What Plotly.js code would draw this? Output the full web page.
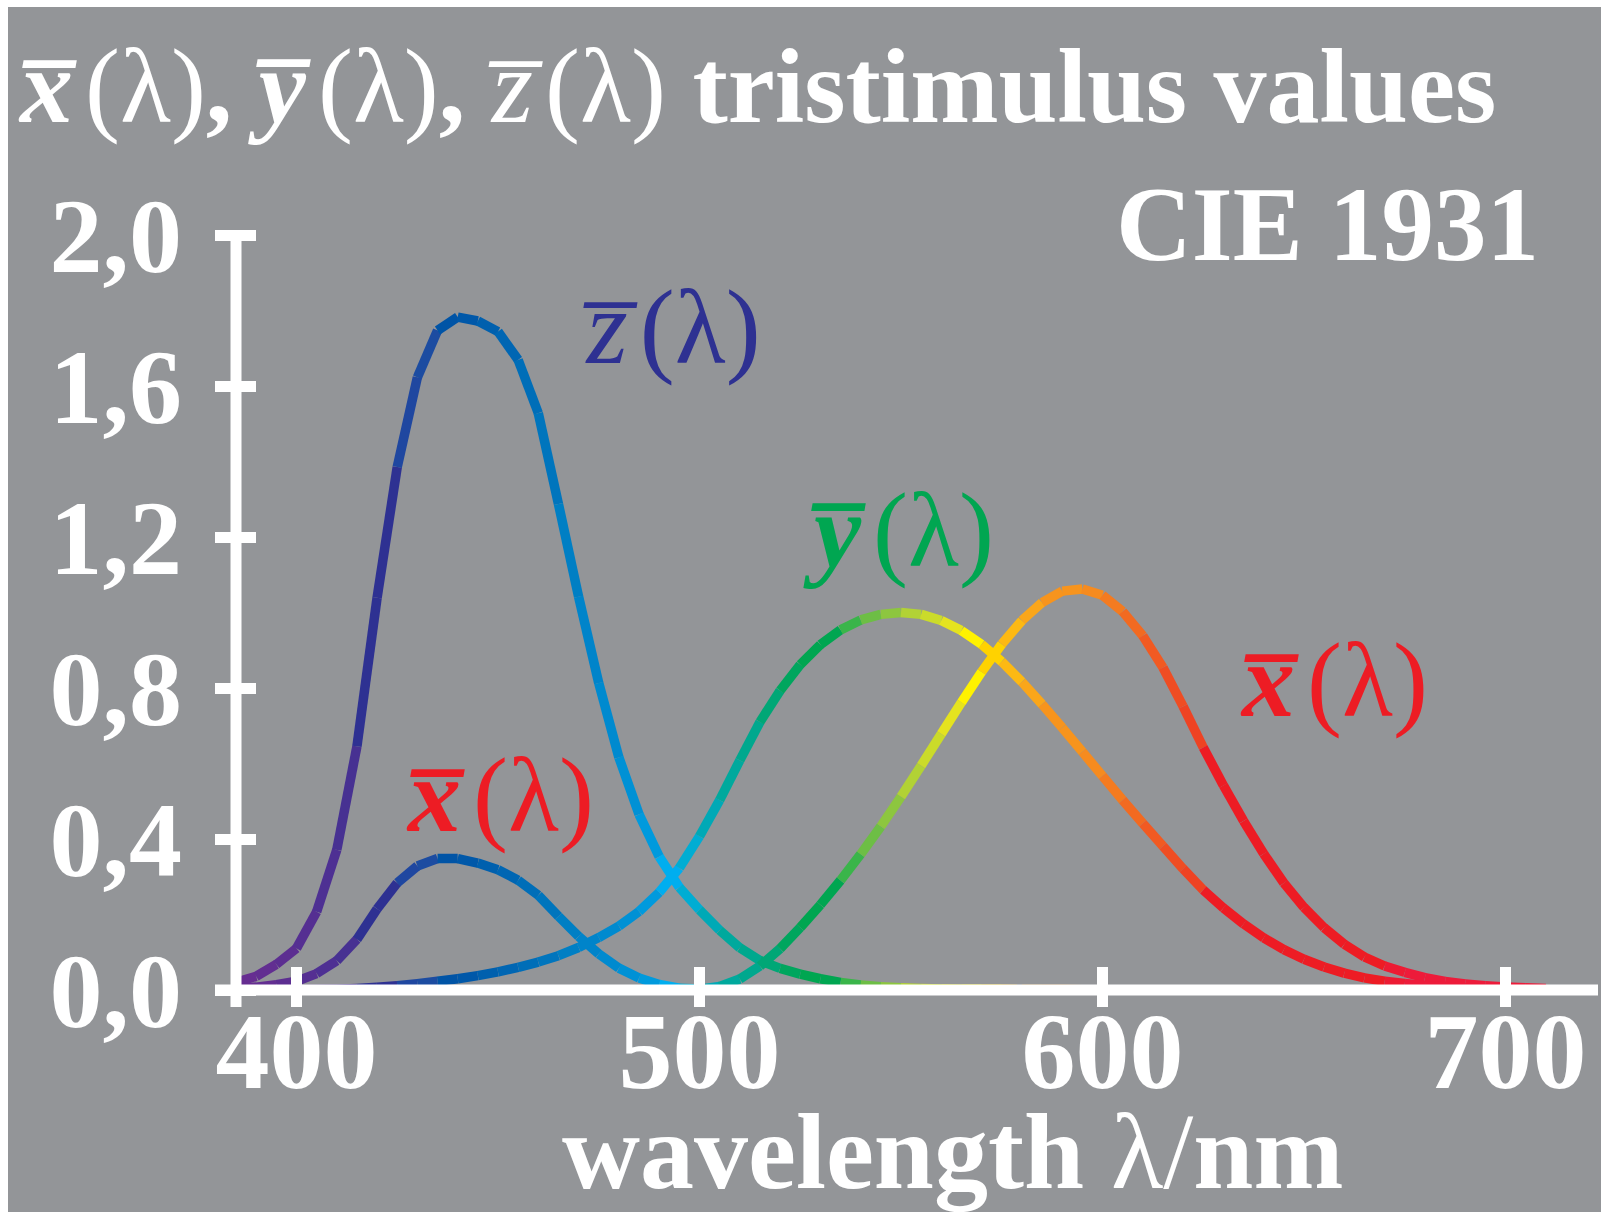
<!DOCTYPE html>
<html>
<head>
<meta charset="utf-8">
<script src="https://cdn.plot.ly/plotly-3.0.1.min.js"></script>
<style>
html, body { margin:0; padding:0; background:#ffffff; }
#bg { position:absolute; left:8px; top:7px; width:1593px; height:1205px; background:#939598; }
#chart { position:absolute; left:0; top:0; width:1601px; height:1212px; }
</style>
</head>
<body>
<div id="bg"></div>
<div id="chart"></div>
<script>
// Wavelength positions as read on the chart's own axis (nm)
const wavelength = [385,390,395,400,405,410,415,420,425,430,435,440,445,450,455,460,465,470,475,480,
  485,490,495,500,505,510,515,520,525,530,535,540,545,550,555,560,565,570,575,580,
  585,590,595,600,605,610,615,620,625,630,635,640,645,650,655,660,665,670,675,680,
  685,690,695,700,705,710];

const xBar = [0.0042,0.0077,0.0143,0.0232,0.0435,0.0776,0.1344,0.2148,0.2839,0.3285,0.3483,0.3481,0.3362,0.3187,0.2908,0.2511,0.1954,0.1421,0.0956,0.0580,
  0.0320,0.0147,0.0049,0.0024,0.0093,0.0291,0.0633,0.1096,0.1655,0.2257,0.2904,0.3597,0.4334,0.5121,0.5945,0.6784,0.7621,0.8425,0.9163,0.9786,
  1.0263,1.0567,1.0622,1.0456,1.0026,0.9384,0.8544,0.7514,0.6424,0.5419,0.4479,0.3608,0.2835,0.2187,0.1649,0.1212,0.0874,0.0636,0.0468,0.0329,
  0.0227,0.0158,0.0114,0.0081,0.0058,0.0041];

const yBar = [0.0001,0.0002,0.0004,0.0006,0.0012,0.0022,0.0040,0.0073,0.0116,0.0168,0.0230,0.0298,0.0380,0.0480,0.0600,0.0739,0.0910,0.1126,0.1390,0.1693,
  0.2080,0.2586,0.3230,0.4073,0.5030,0.6082,0.7100,0.7932,0.8620,0.9149,0.9540,0.9803,0.9950,1.0000,0.9950,0.9786,0.9520,0.9154,0.8700,0.8163,
  0.7570,0.6949,0.6310,0.5668,0.5030,0.4412,0.3810,0.3210,0.2650,0.2170,0.1750,0.1382,0.1070,0.0816,0.0610,0.0446,0.0320,0.0232,0.0170,0.0119,
  0.0082,0.0057,0.0041,0.0029,0.0021,0.0015];

const zBar = [0.0201,0.0362,0.0679,0.1102,0.2074,0.3713,0.6456,1.0391,1.3856,1.6230,1.7471,1.7826,1.7721,1.7441,1.6692,1.5281,1.2876,1.0419,0.8130,0.6162,
  0.4652,0.3533,0.2720,0.2123,0.1582,0.1117,0.0782,0.0573,0.0422,0.0298,0.0203,0.0134,0.0087,0.0057,0.0039,0.0027,0.0021,0.0018,0.0017,0.0014,
  0.0011,0.0010,0.0008,0.0006,0.0003,0.0002,0.0002,0.0001,0,0,0,0,0,0,0,0,0,0,0,0,
  0,0,0,0,0,0];

// Colour of each 5 nm segment (spectral colours)
const segmentColors = ['#662D91','#622E91','#5C2E91','#552F92','#4E3093','#473192','#2E3192','#2E3192','#1F47A0','#1C4CA1',
  '#0054A6','#0058A9','#0060AE','#0066B3','#006EB8','#0075BD','#007FC4','#0084CA','#008ACF','#0091D5',
  '#009ADD','#00AEEF','#00ADD3','#00A9B6','#00A99D','#00A88E','#00A776','#00A65E','#00A651','#00A651',
  '#3AB54A','#6DBE45','#8DC63F','#B2D235','#CBDB2A','#E5E31F','#FFF200','#FFD200','#FDB913','#FAA61A',
  '#F7941D','#F7941D','#F68B1F','#F47B20','#F26A21','#F15A22','#EF4D23','#EE4323','#ED1C24','#ED1C24',
  '#ED1C24','#ED1C24','#ED1C24','#ED1C24','#ED1C24','#ED1C24','#ED1C24','#ED1B33','#ED1B3A','#ED1B3A',
  '#ED1B3A','#ED1B3A','#ED1B3A','#ED1B3A','#ED1B3A'];

const xTickVals = [400,500,600,700];
const xTickText = ['400','500','600','700'];
const yTickVals = [0,0.4,0.8,1.2,1.6,2.0];
const yTickText = ['0,0','0,4','0,8','1,2','1,6','2,0'];

const serif = 'Liberation Serif, Times New Roman, serif';
const W = 1601, H = 1212;
const L = 215, R = 3, T = 231, B = 205;
const pw = W - L - R, ph = H - T - B;
function px(x){ return (x - L) / pw; }
function py(y){ return (H - B - y) / ph; }

const traces = [];
[zBar, xBar, yBar].forEach(series => {
  for (let i = 0; i < wavelength.length - 1; i++) {
    traces.push({
      x: [wavelength[i], wavelength[i+1]],
      y: [series[i], series[i+1]],
      mode: 'lines',
      line: {color: segmentColors[i], width: 9.5},
      hoverinfo: 'skip',
      showlegend: false
    });
  }
});

const ann = (text, x, y, xanchor, color, size) => ({
  text: text, x: px(x), y: py(y), xref: 'paper', yref: 'paper',
  xanchor: xanchor, yanchor: 'middle', showarrow: false,
  font: {family: serif, size: size || 106, color: color || '#ffffff'}
});

const OV = '\u0305';
const SP = '<span style="font-size:60px">\u2009</span>';
const LAM = '<span style="font-size:105px">(λ)</span>';
const xL = '<b><i>x' + OV + '</i></b>' + SP + LAM;
const yL = '<b><i>y' + OV + '</i></b>' + SP + LAM;
const zL = '<i>z' + OV + '</i>' + SP + LAM;

const layout = {
  width: W, height: H,
  margin: {l: L, r: R, t: T, b: B, pad: 0},
  paper_bgcolor: 'rgba(0,0,0,0)',
  plot_bgcolor: 'rgba(0,0,0,0)',
  showlegend: false,
  xaxis: {
    range: [379.78, 722.95], tickvals: xTickVals, ticktext: xTickText,
    ticks: 'inside', ticklen: 40, tickwidth: 11, tickcolor: '#ffffff',
    showgrid: false, zeroline: false, showline: false,
    ticklabelstandoff: -28,
    tickfont: {family: serif, size: 108, color: '#ffffff', weight: 'bold'}
  },
  yaxis: {
    range: [-0.04503, 2.0106], tickvals: yTickVals, ticktext: yTickText,
    ticks: 'inside', ticklen: 41, tickwidth: 11, tickcolor: '#ffffff',
    showgrid: false, zeroline: false, showline: false,
    ticklabelstandoff: 32,
    tickfont: {family: serif, size: 106, color: '#ffffff', weight: 'bold'}
  },
  shapes: [
    {type: 'line', xref: 'paper', yref: 'y', x0: 0, x1: 1, y0: 0, y1: 0,
     line: {color: '#ffffff', width: 11}, layer: 'above'},
    {type: 'line', xref: 'paper', yref: 'paper', x0: px(236), x1: px(236), y0: 0, y1: 1,
     line: {color: '#ffffff', width: 11}, layer: 'above'}
  ],
  annotations: [
    ann(xL + '<b>,</b> ' + yL + '<b>,</b> ' + zL + ' <b>tristimulus values</b>', 16, 86, 'left'),
    ann('<b>CIE 1931</b>', 1541, 224, 'right', '#ffffff', 105),
    ann(zL, 672, 327, 'center', '#2E3192'),
    ann(yL, 898, 530, 'center', '#00A651'),
    ann(xL, 500, 795, 'center', '#ED1C24'),
    ann(xL, 1334, 680, 'center', '#ED1C24'),
    ann('<b>wavelength </b>λ/<b>nm</b>', 952, 1152, 'center', '#ffffff', 108)
  ]
};

Plotly.newPlot('chart', traces, layout, {staticPlot: true, displayModeBar: false});
</script>
</body>
</html>
